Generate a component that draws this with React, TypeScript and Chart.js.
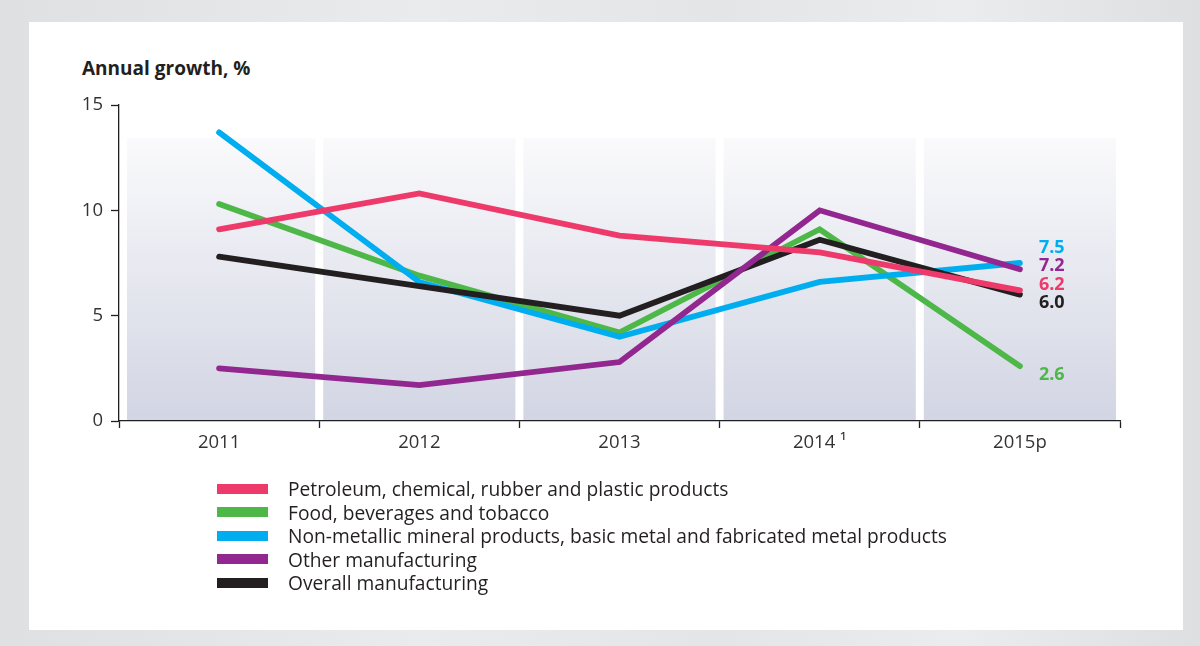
import React, { useEffect, useRef } from 'react';
import { Chart, registerables } from 'chart.js';

Chart.register(...registerables);

const categories = ['2011', '2012', '2013', '2014 ¹', '2015p'];
const petroleum = [9.1, 10.8, 8.8, 8.0, 6.2];
const food = [10.3, 6.9, 4.2, 9.1, 2.6];
const metal = [13.7, 6.6, 4.0, 6.6, 7.5];
const other = [2.5, 1.7, 2.8, 10.0, 7.2];
const overall = [7.8, 6.4, 5.0, 8.6, 6.0];
const yTicks = [0, 5, 10, 15];

const seriesNames = [
  'Petroleum, chemical, rubber and plastic products',
  'Food, beverages and tobacco',
  'Non-metallic mineral products, basic metal and fabricated metal products',
  'Other manufacturing',
  'Overall manufacturing',
];
const seriesData = [petroleum, food, metal, other, overall];
const seriesColors = ['#EE3A6B', '#4DB848', '#00AEEF', '#92278F', '#231F20'];
const drawOrder = [0, 4, 3, 1, 2];
const labelDy = [-6, 9, -15, -3, 8];

const FONT = '"Open Sans", "DejaVu Sans", sans-serif';

const panelPlugin = {
  id: 'panels',
  beforeDraw(chart: any) {
    const { ctx, chartArea, scales } = chart;
    const x = scales.x;
    const n = categories.length;
    const w = (chartArea.right - chartArea.left) / n;
    const top = chartArea.top + 33;
    const bottom = chartArea.bottom - 1;
    ctx.save();
    const g = ctx.createLinearGradient(0, top, 0, bottom);
    g.addColorStop(0, '#fafafc');
    g.addColorStop(1, '#d2d5e3');
    ctx.fillStyle = g;
    for (let i = 0; i < n; i++) {
      const c = x.getPixelForValue(i);
      const x0 = c - w / 2 + (i === 0 ? 8 : 4);
      const x1 = c + w / 2 - 4;
      ctx.fillRect(x0, top, x1 - x0, bottom - top);
    }
    ctx.restore();
  },
};

const endLabelPlugin = {
  id: 'endLabels',
  afterDatasetsDraw(chart: any) {
    const { ctx } = chart;
    ctx.save();
    ctx.font = `bold 18px ${FONT}`;
    ctx.textAlign = 'left';
    ctx.textBaseline = 'middle';
    chart.data.datasets.forEach((ds: any, i: number) => {
      const meta = chart.getDatasetMeta(i);
      const pt = meta.data[meta.data.length - 1];
      const v = ds.data[ds.data.length - 1];
      ctx.fillStyle = ds.borderColor;
      ctx.fillText(v.toFixed(1), pt.x + 19, pt.y + labelDy[i]);
    });
    ctx.restore();
  },
};

export default function App() {
  const ref = useRef<HTMLCanvasElement>(null);

  useEffect(() => {
    const canvas = ref.current!;
    const chart = new Chart(canvas, {
      type: 'line',
      data: {
        labels: categories,
        datasets: seriesData.map((d, i) => ({
          label: seriesNames[i],
          data: d,
          borderColor: seriesColors[i],
          backgroundColor: seriesColors[i],
          borderWidth: 5.8,
          borderCapStyle: 'round',
          borderJoinStyle: 'miter',
          pointRadius: 0,
          tension: 0,
          order: drawOrder[i],
        })),
      },
      options: {
        responsive: false,
        animation: false,
        devicePixelRatio: 1,
        layout: { padding: { left: 0, right: 80, top: 105, bottom: 185 } },
        plugins: {
          legend: { display: false },
          tooltip: { enabled: false },
          title: { display: false },
        },
        scales: {
          x: {
            offset: true,
            grid: {
              offset: true,
              drawOnChartArea: false,
              drawTicks: true,
              tickLength: 7,
              tickColor: '#231F20',
              tickWidth: 1.3,
            },
            border: { display: true, color: '#231F20', width: 1.3 },
            ticks: {
              color: '#333333',
              font: { family: FONT, size: 18.5 },
              padding: 4,
              maxRotation: 0,
            },
            afterFit(scale: any) {
              scale.height = 40;
            },
          },
          y: {
            min: 0,
            max: 15,
            afterBuildTicks(scale: any) {
              scale.ticks = yTicks.map((v) => ({ value: v }));
            },
            grid: {
              drawOnChartArea: false,
              drawTicks: true,
              tickLength: 8,
              tickColor: '#231F20',
              tickWidth: 1.3,
            },
            border: { display: true, color: '#231F20', width: 1.3 },
            ticks: {
              color: '#333333',
              font: { family: FONT, size: 18.5 },
              padding: 8,
            },
            afterFit(scale: any) {
              scale.width = 119;
            },
          },
        },
      },
      plugins: [panelPlugin, endLabelPlugin],
    } as any);
    return () => chart.destroy();
  }, []);

  return (
    <div
      style={{
        position: 'fixed',
        left: 0,
        top: 0,
        width: 1200,
        height: 646,
        overflow: 'hidden',
        background:
          'linear-gradient(90deg, #dfe0e2 0%, #eaebed 35%, #e4e5e7 60%, #ebeced 80%, #dedfe1 100%)',
        fontFamily: FONT,
      }}
    >
      <div
        style={{
          position: 'absolute',
          left: 29,
          top: 22,
          width: 1154,
          height: 608,
          background: '#ffffff',
        }}
      />
      <div
        style={{
          position: 'absolute',
          left: 82,
          top: 55,
          fontSize: 19,
          fontWeight: 700,
          color: '#231F20',
          whiteSpace: 'nowrap',
        }}
      >
        Annual growth, %
      </div>
      <canvas
        ref={ref}
        width={1200}
        height={646}
        style={{ position: 'absolute', left: 0, top: 0, width: 1200, height: 646 }}
      />
      <div style={{ position: 'absolute', left: 217, top: 477 }}>
        {seriesNames.map((name, i) => (
          <div
            key={name}
            style={{ display: 'flex', alignItems: 'center', height: 23.5, whiteSpace: 'nowrap' }}
          >
            <div
              style={{ width: 51, height: 10, background: seriesColors[i], marginRight: 20 }}
            />
            <span style={{ fontSize: 19.2, color: '#231F20' }}>{name}</span>
          </div>
        ))}
      </div>
    </div>
  );
}
